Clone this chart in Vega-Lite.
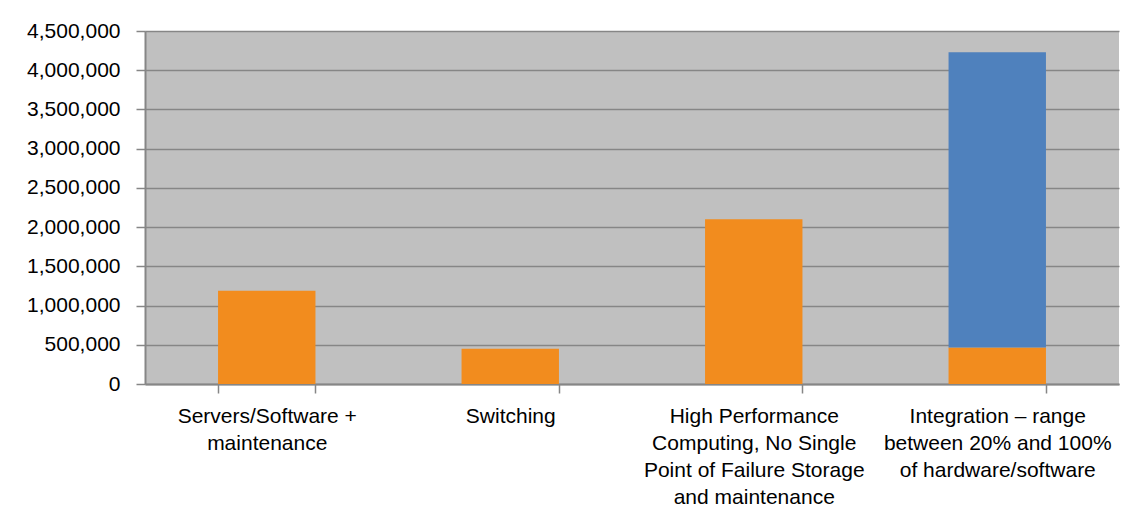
{
  "$schema": "https://vega.github.io/schema/vega-lite/v6.json",
  "width": 974,
  "height": 353,
  "autosize": {"type": "none"},
  "padding": {"left": 145, "top": 31, "right": 18, "bottom": 145},
  "background": "white",
  "config": {
    "view": {"fill": "#C0C0C0", "stroke": null},
    "axis": {"labelFont": "Liberation Sans", "labelColor": "#000000", "domainColor": "#868686", "tickColor": "#868686", "gridColor": "#868686"}
  },
  "data": {
    "values": [
      {"cat": "Servers/Software +|maintenance", "part": "base", "value": 1190000, "ord": 1},
      {"cat": "Switching", "part": "base", "value": 450000, "ord": 1},
      {"cat": "High Performance|Computing, No Single|Point of Failure Storage|and maintenance", "part": "base", "value": 2100000, "ord": 1},
      {"cat": "Integration – range|between 20% and 100%|of hardware/software", "part": "base", "value": 465000, "ord": 1},
      {"cat": "Integration – range|between 20% and 100%|of hardware/software", "part": "range", "value": 3765000, "ord": 2}
    ]
  },
  "mark": {"type": "bar"},
  "encoding": {
    "x": {
      "field": "cat",
      "type": "nominal",
      "sort": null,
      "scale": {"paddingInner": 0.6, "paddingOuter": 0.3},
      "axis": {
        "title": null,
        "labelAngle": 0,
        "labelExpr": "isString(datum.value) ? split(datum.value, '|') : ''",
        "labelFontSize": 21,
        "labelLineHeight": 27,
        "labelPadding": 12,
        "labelBaseline": "top",
        "labelLimit": 400,
        "tickBand": "extent",
        "tickSize": 9,
        "tickWidth": 1.5,
        "domainWidth": 2
      }
    },
    "y": {
      "field": "value",
      "type": "quantitative",
      "stack": "zero",
      "scale": {"domain": [0, 4500000], "nice": false},
      "axis": {
        "title": null,
        "values": [0, 500000, 1000000, 1500000, 2000000, 2500000, 3000000, 3500000, 4000000, 4500000],
        "labelExpr": "format(datum.value, ',')",
        "labelFontSize": 21,
        "labelPadding": 16,
        "tickSize": 9,
        "tickWidth": 1.5,
        "gridWidth": 1.5,
        "domainWidth": 2
      }
    },
    "color": {
      "field": "part",
      "type": "nominal",
      "scale": {"domain": ["base", "range"], "range": ["#F28C1E", "#4F81BD"]},
      "legend": null
    },
    "order": {"field": "ord", "type": "quantitative"}
  }
}
